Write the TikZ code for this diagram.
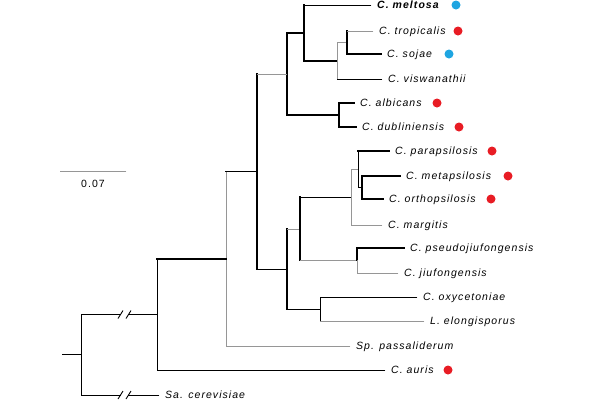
\documentclass[tikz,border=0pt]{standalone}
\usepackage{fontspec}
\setmainfont{Liberation Sans}[LetterSpace=10]
\definecolor{dred}{RGB}{232,28,36}
\definecolor{dblue}{RGB}{30,165,225}
\definecolor{lgray}{RGB}{150,150,150}
\newcommand\tedge[4]{\draw[#1] (#3) -- (#3 |- #4); \draw[#2] (#3 |- #4) -- (#4);}
\begin{document}
\begin{tikzpicture}[x=1pt,y=-1pt,
  thk/.style={line width=1.4pt, line cap=rect},
  thn/.style={line width=0.9pt, line cap=rect},
  gry/.style={line width=0.9pt, line cap=rect, draw=lgray},
  leaf/.style={anchor=west, inner xsep=6pt, inner ysep=0pt, text height=7.5pt, text depth=0pt, font=\fontsize{10.5}{12}\selectfont\itshape},
  dotr/.style={circle, fill=dred, inner sep=0pt, minimum size=9pt},
  dotb/.style={circle, fill=dblue, inner sep=0pt, minimum size=9pt}]
\useasboundingbox (0,0) rectangle (600,400);
% internal nodes
\coordinate (nS) at (347,42.5);
\coordinate (nV) at (337,61);
\coordinate (nM) at (304,33);
\coordinate (nA) at (339,115);
\coordinate (nT) at (287,74);
\coordinate (nMO) at (362,187.5);
\coordinate (nP) at (358,169);
\coordinate (nG) at (351,197);
\coordinate (nJ) at (357,260.5);
\coordinate (nPJ) at (300,229);
\coordinate (nO) at (320,309);
\coordinate (nL) at (287,269);
\coordinate (nC) at (257,171.5);
\coordinate (nSp) at (226,259);
\coordinate (nAu) at (157,314.5);
\coordinate (root) at (81,354.5);
\coordinate (stem) at (62,354.5);
% leaves
\node[leaf, font=\fontsize{10.5}{12}\selectfont\bfseries\itshape] (meltosa) at (371,5) {C. meltosa};
\node[leaf] (trop) at (373,31) {C. tropicalis};
\node[leaf] (sojae) at (381,54) {C. sojae};
\node[leaf] (visw) at (382,79) {C. viswanathii};
\node[leaf] (alb) at (354,103) {C. albicans};
\node[leaf] (dub) at (356,127) {C. dubliniensis};
\node[leaf] (para) at (389,151) {C. parapsilosis};
\node[leaf] (meta) at (400,176) {C. metapsilosis};
\node[leaf] (ortho) at (383,199) {C. orthopsilosis};
\node[leaf] (marg) at (382,225) {C. margitis};
\node[leaf] (pseudo) at (404,248) {C. pseudojiufongensis};
\node[leaf] (jiu) at (398,273) {C. jiufongensis};
\node[leaf] (oxy) at (417,297) {C. oxycetoniae};
\node[leaf] (elong) at (424,321) {L. elongisporus};
\node[leaf] (passal) at (350,346) {Sp. passaliderum};
\node[leaf] (auris) at (385,370) {C. auris};
\node[leaf] (cere) at (159,395) {Sa. cerevisiae};
% edges
\tedge{thk}{thn}{nM}{meltosa}
\tedge{thk}{thk}{nM}{nV}
\tedge{gry}{gry}{nV}{nS}
\tedge{gry}{thn}{nV}{visw}
\tedge{thk}{gry}{nS}{trop}
\tedge{thk}{thk}{nS}{sojae}
\tedge{thk}{thk}{nT}{nM}
\tedge{thk}{thk}{nT}{nA}
\tedge{thk}{thk}{nA}{alb}
\tedge{thk}{thk}{nA}{dub}
\tedge{thk}{gry}{nC}{nT}
\tedge{thk}{thn}{nC}{nL}
\tedge{thk}{gry}{nL}{nPJ}
\tedge{thk}{thn}{nL}{nO}
\tedge{thk}{thn}{nPJ}{nG}
\tedge{thk}{gry}{nPJ}{nJ}
\tedge{gry}{gry}{nG}{nP}
\tedge{gry}{gry}{nG}{marg}
\tedge{thn}{thk}{nP}{para}
\tedge{thn}{thn}{nP}{nMO}
\tedge{thk}{thk}{nMO}{meta}
\tedge{thk}{thk}{nMO}{ortho}
\tedge{thk}{thk}{nJ}{pseudo}
\tedge{gry}{gry}{nJ}{jiu}
\tedge{thn}{thn}{nO}{oxy}
\tedge{thn}{gry}{nO}{elong}
\tedge{gry}{thk}{nSp}{nC}
\tedge{gry}{gry}{nSp}{passal}
\tedge{thn}{thk}{nAu}{nSp}
\tedge{thn}{thn}{nAu}{auris}
\draw[thn] (stem) -- (root);
% broken branches
\coordinate (ba1) at (120.5,314.5);
\coordinate (ba2) at (128.5,314.5);
\coordinate (bb1) at (120.5,395);
\coordinate (bb2) at (128.5,395);
\draw[thn] (root) -- (root |- nAu) -- (ba1);
\draw[thn] (ba2) -- (nAu);
\draw[thn] (root) -- (root |- cere) -- (bb1);
\draw[thn] (bb2) -- (cere);
\foreach \c in {ba1,ba2,bb1,bb2}{\draw[line width=0.9pt] ([xshift=-2.5pt,yshift=-4pt]\c) -- ([xshift=2.5pt,yshift=4pt]\c);}
% dots
\node[dotb] (d1) at (456,5) {};
\node[dotr] (d2) at (458,31) {};
\node[dotb] (d3) at (449,54) {};
\node[dotr] (d4) at (437,103) {};
\node[dotr] (d5) at (459,127) {};
\node[dotr] (d6) at (492,151) {};
\node[dotr] (d7) at (508,176) {};
\node[dotr] (d8) at (491,199) {};
\node[dotr] (d9) at (448,370) {};
% scale bar
\coordinate (sb1) at (60,171);
\coordinate (sb2) at (126,171);
\draw[gry] (sb1) -- (sb2);
\node[font=\fontsize{10.5}{12}\selectfont] (sbl) at (93,184) {0.07};
\end{tikzpicture}
\end{document}
